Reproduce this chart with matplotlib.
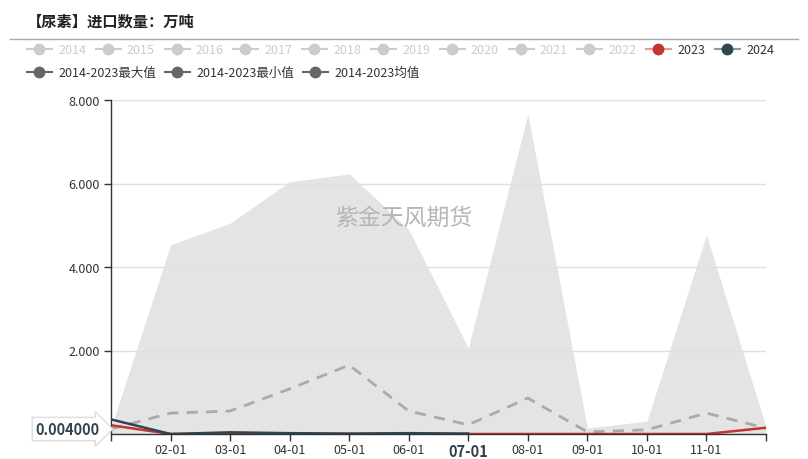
import matplotlib
matplotlib.use('Agg')
import matplotlib.pyplot as plt
from matplotlib.lines import Line2D

plt.rcParams['font.family'] = ['Noto Sans CJK SC', 'DejaVu Sans']

# data (万吨)
months = ['01-01', '02-01', '03-01', '04-01', '05-01', '06-01',
          '07-01', '08-01', '09-01', '10-01', '11-01', '12-01']
max_vals = [0.15, 4.53, 5.05, 6.04, 6.23, 4.90, 2.06, 7.66, 0.14, 0.31, 4.77, 0.17]
min_vals = [0.0, 0.0, 0.0, 0.0, 0.0, 0.0, 0.0, 0.0, 0.0, 0.0, 0.0, 0.0]
mean_vals = [0.12, 0.50, 0.55, 1.08, 1.65, 0.55, 0.22, 0.86, 0.05, 0.10, 0.50, 0.14]
y2023 = [0.21, 0.0, 0.0, 0.0, 0.0, 0.0, 0.0, 0.0, 0.0, 0.0, 0.0, 0.15]
y2024 = [0.35, 0.0, 0.04, 0.02, 0.01, 0.02, 0.01]

legend_row1 = ['2014', '2015', '2016', '2017', '2018', '2019', '2020',
               '2021', '2022', '2023', '2024']
legend_row2 = ['2014-2023最大值', '2014-2023最小值', '2014-2023均值']

RED = '#c23531'
NAVY = '#2f4554'
GRAY = '#cccccc'

W, H = 808, 460
fig = plt.figure(figsize=(W / 100, H / 100), dpi=100)
ax = fig.add_axes([111 / W, (H - 435) / H, (766 - 111) / W, (435 - 101) / H])

x = list(range(len(months)))
ax.fill_between(x, min_vals, max_vals, color='#e4e4e4', linewidth=0, zorder=1)
ax.plot(x, mean_vals, color='#aaaaaa', linewidth=2, linestyle=(0, (4, 3)), zorder=3)
ax.plot(x, y2023, color=RED, linewidth=1.8, zorder=4)
ax.plot(x[:len(y2024)], y2024, color=NAVY, linewidth=1.8, zorder=5)

ax.set_xlim(0, 11)
ax.set_ylim(0, 8)
ax.set_yticks([2, 4, 6, 8])
ax.set_yticklabels(['2.000', '4.000', '6.000', '8.000'])
ax.set_xticks(x)
ax.set_xticklabels(['' if m in ('01-01', '12-01') else m for m in months])
ax.tick_params(axis='both', labelsize=9, colors='#333333', length=5, width=1, pad=3)
ax.tick_params(axis='x', pad=1.5)
for lbl in ax.get_xticklabels():
    if lbl.get_text() == '07-01':
        lbl.set_fontweight('bold')
        lbl.set_fontsize(10.5)
        lbl.set_color('#2f3d4a')
ax.grid(axis='y', color='#e0e0e0', linewidth=1, zorder=2)
ax.set_axisbelow(False)
for side in ('top', 'right'):
    ax.spines[side].set_visible(False)
for side in ('left', 'bottom'):
    ax.spines[side].set_color('#333333')
    ax.spines[side].set_linewidth(1)
    ax.spines[side].set_zorder(6)

# watermark
ax.text(0.447, 0.65, '紫金天风期货', transform=ax.transAxes, ha='center', va='center',
        fontsize=16.5, color='#b5b5b5', zorder=7)

# axis pointer label
fig.text(100 / W, 1 - 430 / H, '0.004000', ha='right', va='center', fontsize=10.5,
         fontweight='bold', color=NAVY,
         bbox=dict(boxstyle='rarrow,pad=0.25', fc='white', ec='#dddddd', lw=1))

# title and separator
fig.text(27 / W, 1 - 22 / H, '【尿素】进口数量：万吨', ha='left', va='center',
         fontsize=11, fontweight='bold', color='#222222')
fig.add_artist(Line2D([10 / W, 798 / W], [1 - 40 / H, 1 - 40 / H],
                      color='#aaaaaa', linewidth=1))

# legend
def legend_item(xm, ym, label, color, tcolor, lcolor):
    fig.add_artist(Line2D([(xm - 12) / W, (xm + 13) / W], [1 - ym / H, 1 - ym / H],
                          color=lcolor, linewidth=1.5))
    fig.add_artist(Line2D([xm / W], [1 - ym / H], marker='o', markersize=7.5,
                          color=color, linestyle='none'))
    fig.text((xm + 19) / W, 1 - ym / H, label, ha='left', va='center',
             fontsize=9, color=tcolor)

for i, lab in enumerate(legend_row1):
    xm = 39 + i * 68.8
    if lab == '2023':
        legend_item(xm, 50, lab, RED, '#333333', '#e79a98')
    elif lab == '2024':
        legend_item(xm, 50, lab, NAVY, '#333333', '#8a9aa6')
    else:
        legend_item(xm, 50, lab, GRAY, GRAY, GRAY)

for xm, lab in zip([39, 177, 315], legend_row2):
    legend_item(xm, 73, lab, '#666666', '#333333', '#666666')

fig.savefig('out.png', dpi=100)
